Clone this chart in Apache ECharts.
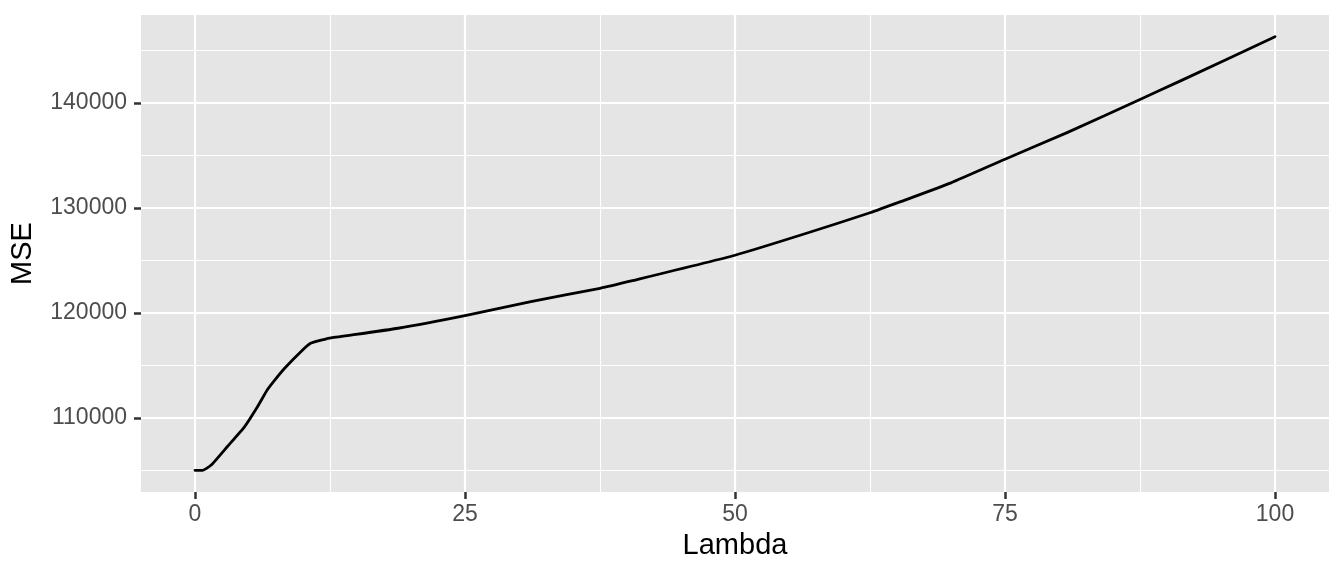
<!DOCTYPE html>
<html>
<head>
<meta charset="utf-8">
<script src="https://cdn.jsdelivr.net/npm/echarts@6/dist/echarts.min.js"></script>
<style>
html,body{margin:0;padding:0;background:#fff;}
#chart{width:1344px;height:576px;}
</style>
</head>
<body>
<div id="chart"></div>
<script>
// Data
const lambda = [0, 0.7, 1.5, 3, 4.6, 5.8, 6.7, 7.4, 8.3, 9.8, 10.7, 12, 12.6, 18.8, 25, 31.1, 37.5, 40.4, 50, 56.4, 62.5, 65.4, 70, 75, 80.8, 87.5, 91.4, 100];
const mse = [105000, 105000, 105500, 107270, 109170, 111080, 112670, 113620, 114730, 116310, 117110, 117490, 117620, 118540, 119740, 121080, 122350, 123050, 125500, 127520, 129550, 130630, 132400, 134650, 137210, 140350, 142190, 146330];
const xMajorTicks = [0, 25, 50, 75, 100];
const xMinorTicks = [12.5, 37.5, 62.5, 87.5];
const yMajorTicks = [110000, 120000, 130000, 140000];
const yMinorTicks = [105000, 115000, 125000, 135000, 145000];
const xTitle = 'Lambda';
const yTitle = 'MSE';

const FONT = "'Liberation Sans', Arial, Helvetica, sans-serif";
const pts = lambda.map((l, i) => [l, mse[i]]);

function expand(lo, hi) { const d = (hi - lo) * 0.05; return [lo - d, hi + d]; }
const [xMin, xMax] = expand(Math.min(...lambda), Math.max(...lambda));
const [yMin, yMax] = expand(Math.min(...mse), Math.max(...mse));

const tickStyle = { color: '#333333', width: 2.5 };
const labelStyle = { fontFamily: FONT, fontSize: 23, color: '#4D4D4D' };

const chart = echarts.init(document.getElementById('chart'), null, { renderer: 'canvas' });
chart.setOption({
  animation: false,
  backgroundColor: '#ffffff',
  grid: { left: 141, right: 15, top: 15, bottom: 84, show: true, backgroundColor: '#E5E5E5', borderWidth: 0 },
  xAxis: [
    {
      type: 'value', min: xMin, max: xMax, position: 'bottom',
      axisLine: { show: false, onZero: false },
      axisTick: { show: true, length: 7, lineStyle: tickStyle, customValues: xMajorTicks },
      axisLabel: Object.assign({ margin: 11, customValues: xMajorTicks, formatter: v => String(v) }, labelStyle),
      splitLine: { show: true, lineStyle: { color: '#ffffff', width: 2.2 } },
      name: xTitle, nameLocation: 'middle', nameGap: 39,
      nameTextStyle: { fontFamily: FONT, fontSize: 29, color: '#000000' }
    },
    {
      type: 'value', min: xMin, max: xMax, position: 'bottom',
      axisLine: { show: false, onZero: false },
      axisTick: { show: false, customValues: xMinorTicks },
      axisLabel: { show: false, customValues: xMinorTicks },
      splitLine: { show: true, lineStyle: { color: '#ffffff', width: 1.1 } }
    }
  ],
  yAxis: [
    {
      type: 'value', min: yMin, max: yMax, position: 'left',
      axisLine: { show: false, onZero: false },
      axisTick: { show: true, length: 7, lineStyle: tickStyle, customValues: yMajorTicks },
      axisLabel: Object.assign({ margin: 14, customValues: yMajorTicks, formatter: v => String(v) }, labelStyle),
      splitLine: { show: true, lineStyle: { color: '#ffffff', width: 2.2 } },
      name: yTitle, nameLocation: 'middle', nameGap: 104, nameRotate: 90,
      nameTextStyle: { fontFamily: FONT, fontSize: 29, color: '#000000' }
    },
    {
      type: 'value', min: yMin, max: yMax, position: 'left',
      axisLine: { show: false, onZero: false },
      axisTick: { show: false, customValues: yMinorTicks },
      axisLabel: { show: false, customValues: yMinorTicks },
      splitLine: { show: true, lineStyle: { color: '#ffffff', width: 1.1 } }
    }
  ],
  series: [{
    type: 'line', xAxisIndex: 0, yAxisIndex: 0,
    data: pts, showSymbol: false, smooth: 0.15,
    lineStyle: { color: '#000000', width: 2.8, join: 'round', cap: 'round' }
  }]
});
</script>
</body>
</html>
